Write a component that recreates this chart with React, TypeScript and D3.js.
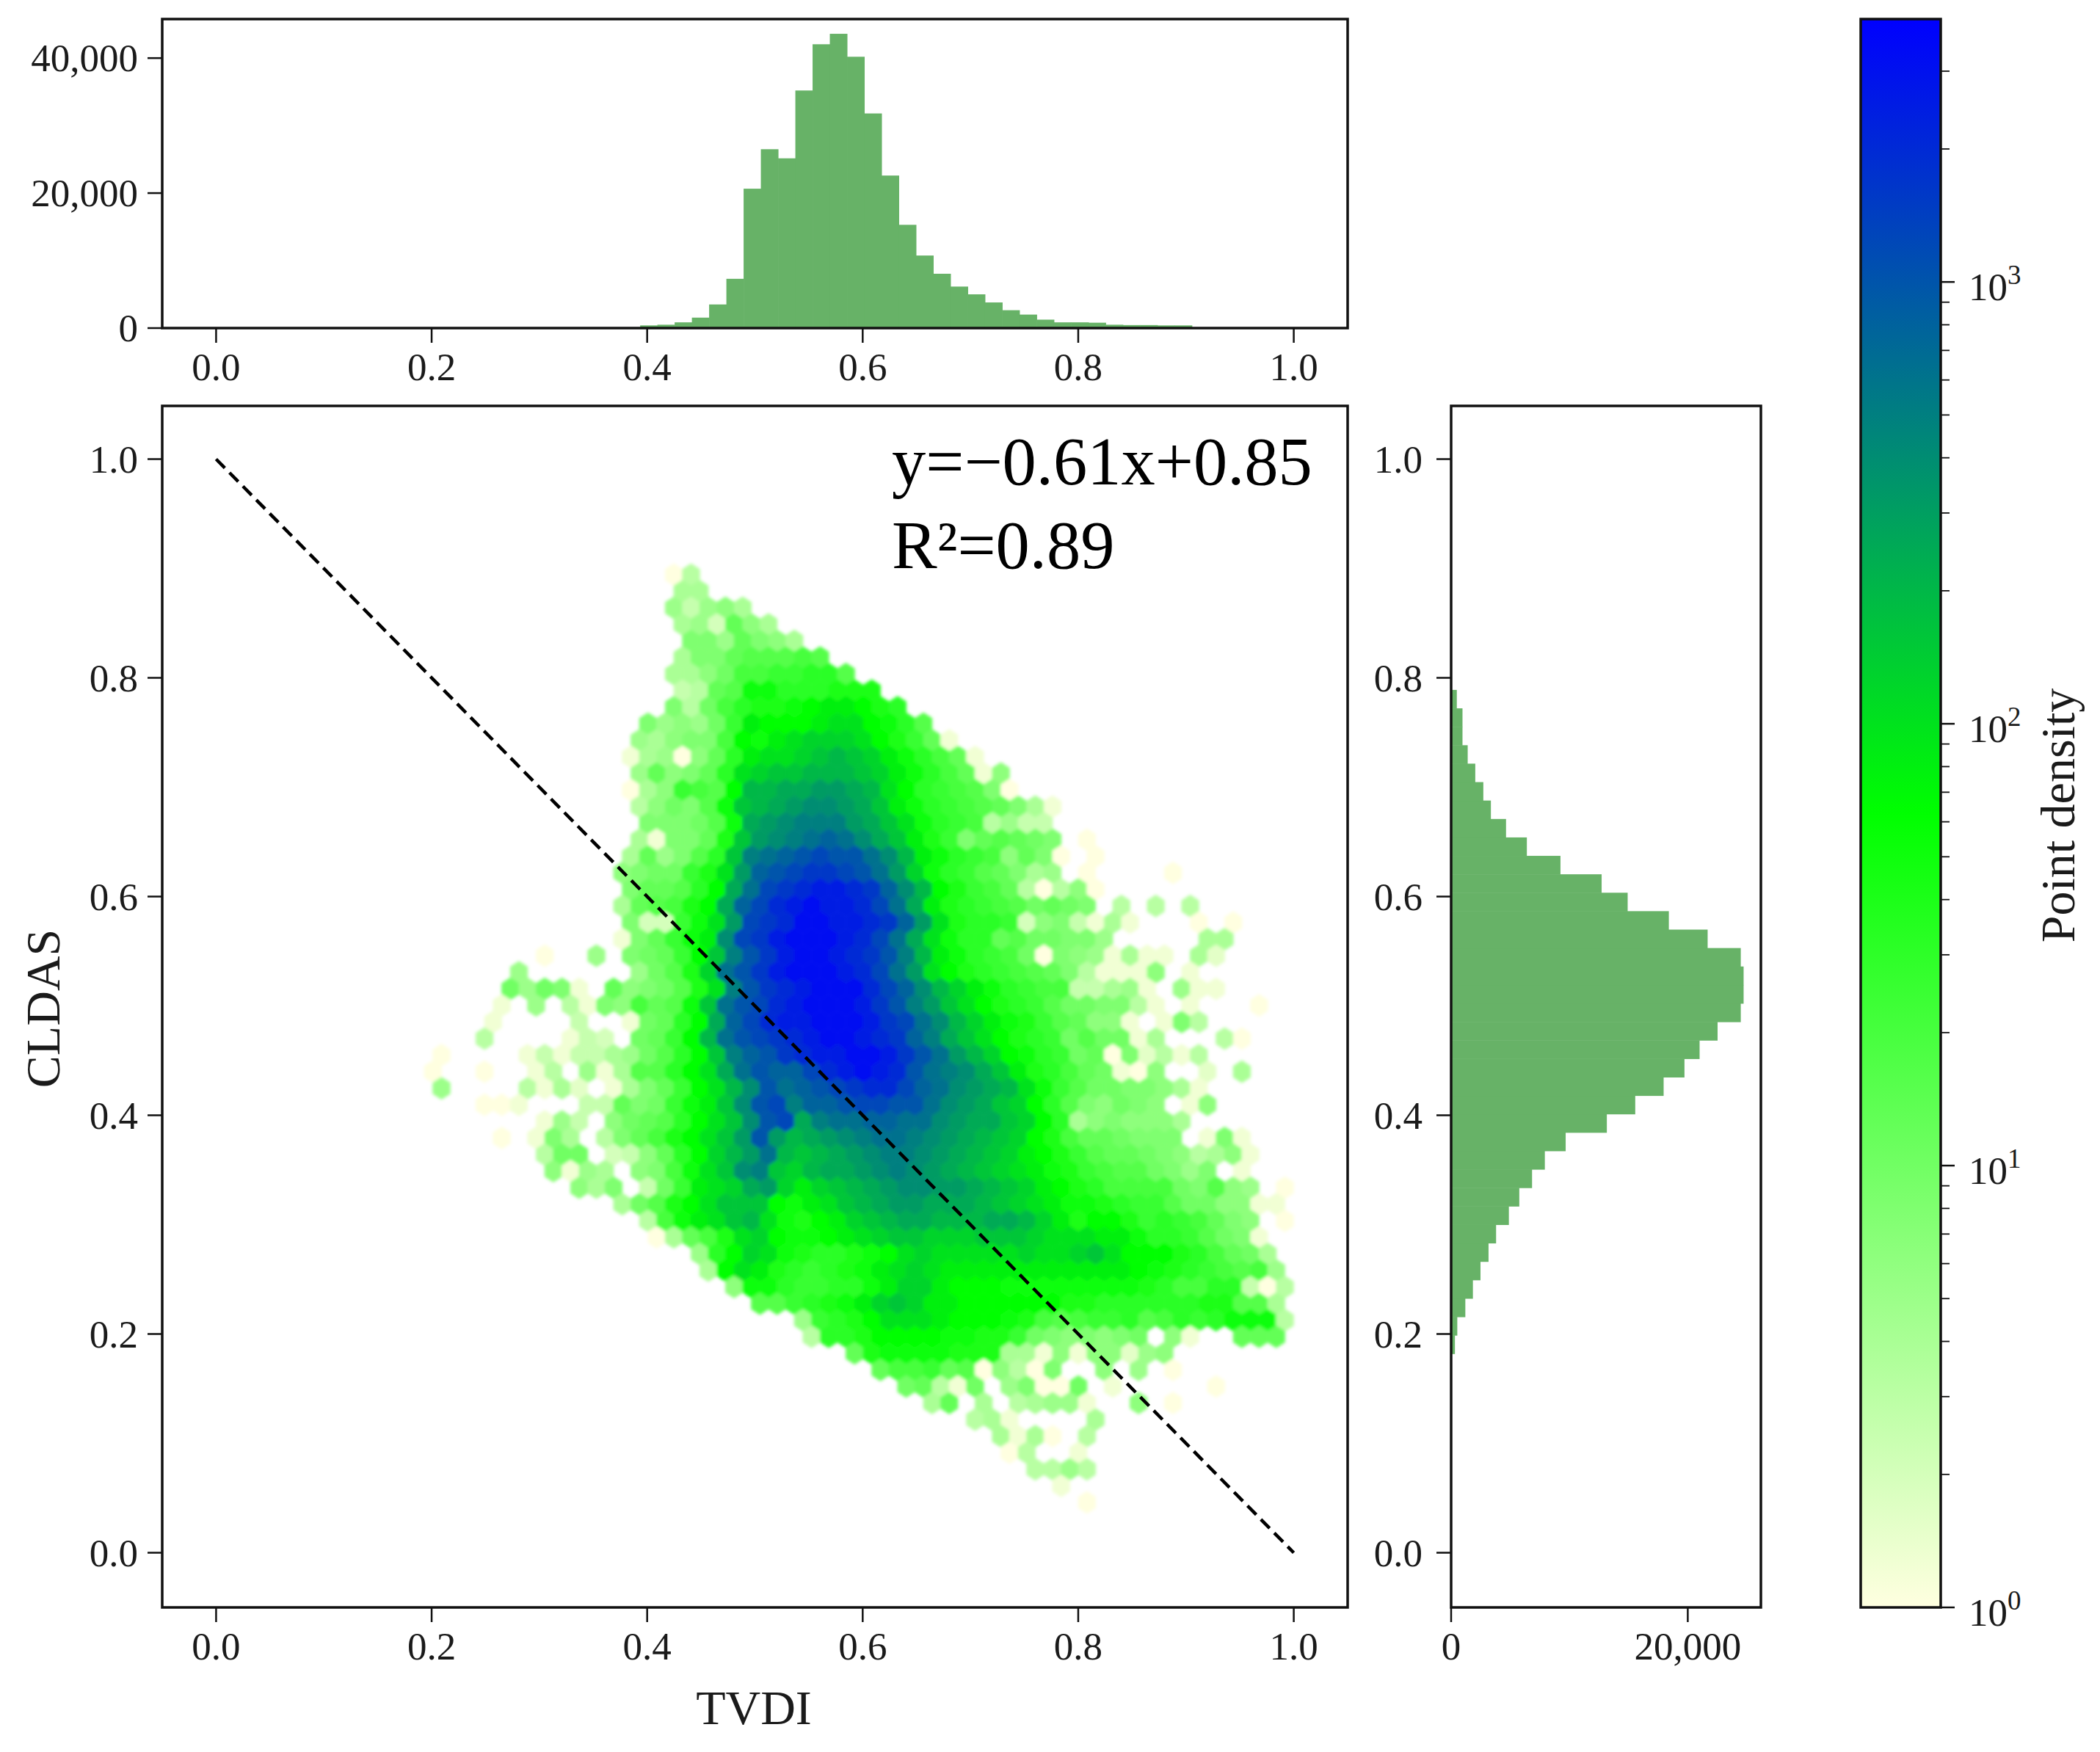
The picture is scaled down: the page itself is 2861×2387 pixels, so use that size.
import React from "react";
import * as d3 from "d3";

// Hexbin cells, one row per line from the top of the cloud. Each character is
// log10(count) x 10 in base 36 ('.' = empty cell); hexRowStart is the column of its first character.
const hexRowStart = [-1,-1,-1,-1,0,-1,-1,-1,-1,-3,-3,-4,-3,-4,-3,-3,-3,-4,-4,-4,-4,-4,-4,-9,-10,-11,-11,-12,-12,-15,-15,-15,-12,-9,-11,-9,-8,-7,-4,-3,-2,0,1,2,4,6,7,9,11,12,14,16,18,18,20,21,23];
const hexRowLevels = [
  "05",
  "66",
  "74786",
  "673b86",
  "997b986",
  "699bcccdc",
  "668addeeffc",
  "45bchhfffggg",
  "95adfgghijjigf",
  "9787aejiiijkkihfc",
  "76899dihjklllkigeb1",
  "16708bfjkklmnmljhfdb1",
  "7b89bfklmmnnnmljhfdb18",
  "068edcinnoopponkifedc90",
  "58a9chmnopqqpomjhfedcb961",
  "999achopqrrrpomkhfed5744",
  "6199bgmpqrstsqomjge9bcba9.0",
  "6b79cfmrstuvuusqnjhfed8b90.0",
  "89aaegkptuvwwvusplhfecb967.0....0",
  "9bbcfiosvwxyyxwtqnigedb50580",
  "6bcdgiotvxyzyyxvsojgfedcaba9.5.5.5",
  "933ehkpvwxzzyyxwtpkgffe3894161...0.0",
  "19behjqvwyzzzyxvsokhffbcaa997.....66",
  "0..7.9abeimruwyzzyxwurnjhfeda09871611.62",
  "7......7acglsuwyzzzyxvspkigfedcb951118.1",
  "a7a91.b89acgkruwxyzzzxvtqnljhfedd44671.711",
  "1.7.5198dbchmsuvxyzzzywurpmkigfecaa9951.1...0",
  "1....4..1abfiotvxyyzzzywvsqnljhgecb881.195",
  "5....143.abeinsuvwxyzzyxwtromkigfeacaa16...50",
  "0....1414467acfimrtuwxyyzzywuspnlihfeab092515",
  "0..0..15.716ccfikosuttvxyzyxusrqomjgfdba108..2.6",
  "7....5162.169beiknqustuvwxxvtsqponkhecaa99861",
  "001...44b9aehjmquvrttuvvuusqpomlifc98a98.18",
  "174.8abcfikmquvorssttssqpoomlif6898886",
  "0.196.59bdgikmpupnopqrssrqponmligdbba999.191",
  "5aa.348bfilnpsnmnopqrrqponmljigecbba985681",
  "8176.89dhkmqrmlnoopqrqponmlkjhgedcca979.1",
  "869.4aejklopljlmnopqqpponmljigfdddda9c87.0",
  "6acgikmmmihjkmnoppooonmlkjhhgfeecaa8811",
  "5dhjkmnkhgijlmnoonnnoonljgiigefedb98.0",
  "06bdgklihhijklmmlllmmmlkkkjjhffeca91",
  "7filkhgffghiklkkkkklkklmkiiigfdba6",
  "6ikjgfefghjklkjjjjjjjjjjjihgfedcd7",
  "8hhfeeffhjlljiiihhhhhhhhgfddff405",
  "ccefghjlmljjiiiiiiggffffffggcc6",
  "7efgikkkjiiihgdcdeefcdfefhhh5",
  "5ffgiiiihhggea98989a.81..bbb",
  "bghhhhggg6618188278",
  "bddebc08509..8.7.0",
  "ab51a.7900a.1.....0",
  "6b.6.56771..8.0",
  "561....6",
  "6160.5",
  "05..1",
  "5575",
  "1",
  "0",
];
const hexOriginX = 0.44075;
const hexOriginY = 0.8943;
const hexStepX = 0.015972;
const hexRowStepY = 0.015148;

// Marginal histograms
const topHistStart = 0.3935;
const topHistBinWidth = 0.016;
const topHistCounts = [400,500,850,1550,3500,7300,20650,26500,25150,35200,42050,43600,40200,31800,22600,15300,10750,8050,6150,5000,3800,2650,2000,1250,850,850,800,500,450,450,400,400];
const rightHistStart = 0.182;
const rightHistBinWidth = 0.01686;
const rightHistCounts = [320,520,1200,1840,2480,3160,3800,4880,5760,6840,7920,9680,13160,15560,17960,19720,21000,22520,24480,24720,24720,24480,21680,18400,14920,12720,9240,6400,4640,3360,2720,2040,1400,960,960,480];

const unitTicks = [0, 0.2, 0.4, 0.6, 0.8, 1.0];
const topCountTicks = [0, 20000, 40000];
const rightCountTicks = [0, 20000];
const colorDecades = [0, 1, 2, 3];
const minorMultipliers = [2, 3, 4, 5, 6, 7, 8, 9];
const lineStart = [0, 1];
const lineEnd = [1, 0];
const equationText = "y=−0.61x+0.85";
const rSquaredText = "R²=0.89";

const FONT = "'Liberation Serif', 'Times New Roman', serif";
const BAR = "#67b267";
const INK = "#111";
const fmt = d3.format(",");

const main = { l: 221, r: 1836, t: 553, b: 2190 };
const top = { l: 221, r: 1836, t: 26, b: 447 };
const side = { l: 1977, r: 2399, t: 553, b: 2190 };
const bar = { l: 2535, r: 2644, t: 26, b: 2190 };

const x = d3.scaleLinear().domain([-0.05, 1.05]).range([main.l, main.r]);
const y = d3.scaleLinear().domain([-0.05, 1.05]).range([main.b, 551]);
const topY = d3.scaleLinear().domain([0, 45780]).range([top.b, top.t]);
const sideX = d3.scaleLinear().domain([0, 26180]).range([side.l, side.r]);
const logTop = 3.595;
const barY = d3.scaleLinear().domain([0, logTop]).range([bar.b, bar.t]);
const color = d3
  .scaleLinear<string>()
  .domain([0, logTop / 2, logTop])
  .range(["#ffffe0", "#00ff00", "#0000ff"])
  .clamp(true);

const polygon = d3.line<[number, number]>().x((d) => x(d[0])).y((d) => y(d[1]));
function hexPath(cx: number, cy: number) {
  const a = hexStepX / 2;
  const b = hexRowStepY / 3;
  const c = (hexRowStepY * 2) / 3;
  const pts: [number, number][] = [
    [cx, cy + c], [cx + a, cy + b], [cx + a, cy - b],
    [cx, cy - c], [cx - a, cy - b], [cx - a, cy + b],
  ];
  return polygon(pts) + "Z";
}

const cells = hexRowLevels.flatMap((row, k) =>
  row.split("").flatMap((ch, i) => {
    if (ch === ".") return [];
    const col = hexRowStart[k] + i + (k % 2 ? 0.5 : 0);
    return [{
      key: `${k}-${i}`,
      cx: hexOriginX + col * hexStepX,
      cy: hexOriginY - k * hexRowStepY,
      log: parseInt(ch, 36) / 10,
    }];
  })
);

const Frame = ({ b }: { b: { l: number; r: number; t: number; b: number } }) => (
  <rect x={b.l} y={b.t} width={b.r - b.l} height={b.b - b.t} fill="none" stroke={INK} strokeWidth={3.5} />
);

const T = (p: any) => (
  <text fontFamily={FONT} fontSize={53} fill="#1a1a1a" {...p} />
);

function XTicks({ bottom, labelY }: { bottom: number; labelY: number }) {
  return (
    <g>
      {unitTicks.map((v) => (
        <g key={v}>
          <line x1={x(v)} x2={x(v)} y1={bottom} y2={bottom + 20} stroke={INK} strokeWidth={2.5} />
          <T x={x(v)} y={labelY} textAnchor="middle" dominantBaseline="central">{v.toFixed(1)}</T>
        </g>
      ))}
    </g>
  );
}

function YTicks({ left, labelX }: { left: number; labelX: number }) {
  return (
    <g>
      {unitTicks.map((v) => (
        <g key={v}>
          <line x1={left - 20} x2={left} y1={y(v)} y2={y(v)} stroke={INK} strokeWidth={2.5} />
          <T x={labelX} y={y(v)} textAnchor="end" dominantBaseline="central">{v.toFixed(1)}</T>
        </g>
      ))}
    </g>
  );
}

export default function App() {
  return (
    <svg
      width={2861}
      height={2387}
      viewBox="0 0 2861 2387"
      style={{ position: "absolute", left: 0, top: 0, display: "block", background: "#fff" }}
    >
      <defs>
        <linearGradient id="cbar" x1="0" y1="1" x2="0" y2="0">
          <stop offset="0" stopColor={color(0)} />
          <stop offset="0.5" stopColor={color(logTop / 2)} />
          <stop offset="1" stopColor={color(logTop)} />
        </linearGradient>
        <filter id="soft" x="0" y="0" width="2861" height="2387" filterUnits="userSpaceOnUse">
          <feGaussianBlur stdDeviation="2.2" />
        </filter>
      </defs>

      {/* top histogram */}
      {topHistCounts.map((c, i) => (
        <rect
          key={i}
          x={x(topHistStart + i * topHistBinWidth)}
          width={x(topHistBinWidth) - x(0) + 0.5}
          y={topY(c)}
          height={topY(0) - topY(c)}
          fill={BAR}
        />
      ))}
      <Frame b={top} />
      <XTicks bottom={top.b} labelY={500} />
      {topCountTicks.map((v) => (
        <g key={v}>
          <line x1={top.l - 20} x2={top.l} y1={topY(v)} y2={topY(v)} stroke={INK} strokeWidth={2.5} />
          <T x={188} y={topY(v)} textAnchor="end" dominantBaseline="central">{fmt(v)}</T>
        </g>
      ))}

      {/* hexbin */}
      <g filter="url(#soft)">
        {cells.map((c) => (
          <path key={c.key} d={hexPath(c.cx, c.cy)} fill={color(c.log)} stroke={color(c.log)} strokeWidth={0.8} />
        ))}
      </g>
      <line
        x1={x(lineStart[0])}
        y1={y(lineStart[1])}
        x2={x(lineEnd[0])}
        y2={y(lineEnd[1])}
        stroke="#000"
        strokeWidth={4.5}
        strokeDasharray="17 9"
      />
      <Frame b={main} />
      <XTicks bottom={main.b} labelY={2243} />
      <YTicks left={main.l} labelX={188} />
      <T x={1215} y={660} fontSize={92.5} fill="#000">{equationText}</T>
      <T x={1215} y={774} fontSize={92.5} fill="#000">{rSquaredText}</T>
      <T x={1027} y={2326} fontSize={66} textAnchor="middle" dominantBaseline="central">TVDI</T>
      <T
        transform="translate(58,1374) rotate(-90)"
        fontSize={66}
        textAnchor="middle"
        dominantBaseline="central"
      >
        CLDAS
      </T>

      {/* right histogram */}
      {rightHistCounts.map((c, i) => {
        const y0 = y(rightHistStart + i * rightHistBinWidth);
        const y1 = y(rightHistStart + (i + 1) * rightHistBinWidth);
        return <rect key={i} x={sideX(0)} width={sideX(c) - sideX(0)} y={y1} height={y0 - y1 + 0.5} fill={BAR} />;
      })}
      <Frame b={side} />
      <YTicks left={side.l} labelX={1938} />
      {rightCountTicks.map((v) => (
        <g key={v}>
          <line x1={sideX(v)} x2={sideX(v)} y1={side.b} y2={side.b + 20} stroke={INK} strokeWidth={2.5} />
          <T x={sideX(v)} y={2243} textAnchor="middle" dominantBaseline="central">{fmt(v)}</T>
        </g>
      ))}

      {/* colorbar */}
      <rect x={bar.l} y={bar.t} width={bar.r - bar.l} height={bar.b - bar.t} fill="url(#cbar)" />
      <Frame b={bar} />
      {colorDecades.map((d) => (
        <g key={d}>
          <line x1={bar.r} x2={bar.r + 19} y1={barY(d)} y2={barY(d)} stroke={INK} strokeWidth={2.5} />
          <text fontFamily={FONT} fill="#1a1a1a" x={2682} y={barY(d) + 25} fontSize={53}>
            10
            <tspan fontSize={37} dy={-22}>{d}</tspan>
          </text>
          {minorMultipliers.map((m) => {
            const l = d + Math.log10(m);
            if (l > logTop) return null;
            return <line key={m} x1={bar.r} x2={bar.r + 12} y1={barY(l)} y2={barY(l)} stroke={INK} strokeWidth={1.8} />;
          })}
        </g>
      ))}
      <T transform="translate(2803,1111) rotate(-90)" fontSize={66} textAnchor="middle" dominantBaseline="central">
        Point density
      </T>
    </svg>
  );
}
